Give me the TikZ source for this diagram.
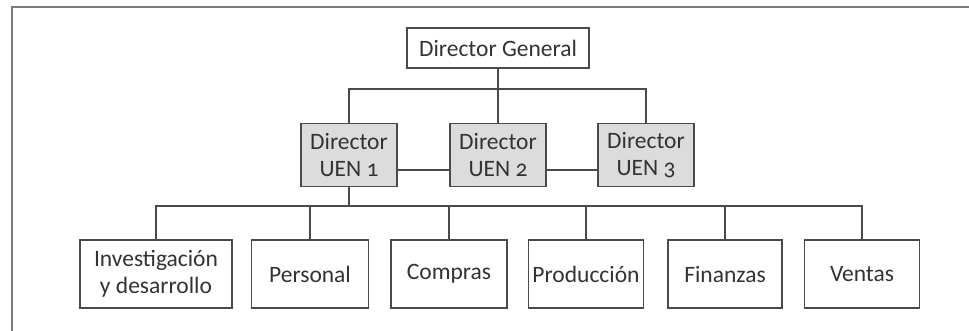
\documentclass[tikz,border=0pt]{standalone}
\usepackage{fontspec}
\setmainfont[Numbers=OldStyle]{Carlito}
\definecolor{ink}{HTML}{333333}
\definecolor{rule}{HTML}{4A4A4A}
\definecolor{uenfill}{HTML}{DCDCDC}
\definecolor{frame}{HTML}{7A7A7A}
\begin{document}
\begin{tikzpicture}[x=1pt,y=-1pt,
  every node/.style={font=\fontsize{23.5}{27}\selectfont, text=ink, align=center, inner sep=0pt},
  box/.style={draw=rule, line width=1.4pt, fill=white},
  uen/.style={box, fill=uenfill, minimum width=96pt, minimum height=63pt},
  dept/.style={box, minimum height=68pt},
  link/.style={draw=rule, line width=1.4pt}]
  \useasboundingbox (0,0) rectangle (969,330);
  % outer frame (top and left sides only)
  \draw[frame, line width=2.2pt] (12,331) -- (12,7) -- (970,7);

  % top level
  \node[box, minimum width=182pt, minimum height=40pt] (dg) at (498,48) {Director General};

  % business-unit directors
  \node[uen] (u1) at (349,155) {Director\\UEN 1};
  \node[uen] (u2) at (498,155) {Director\\UEN 2};
  \node[uen] (u3) at (646,155) {Director\\UEN 3};

  % functional departments
  \node[dept, minimum width=152pt] (b1) at (156,274) {Investigación\\y desarrollo};
  \node[dept, minimum width=117pt] (b2) at (310,274) {Personal};
  \node[dept, minimum width=116pt] (b3) at (449,274) {Compras};
  \node[dept, minimum width=115pt] (b4) at (586,274) {Producción};
  \node[dept, minimum width=114pt] (b5) at (725,274) {Finanzas};
  \node[dept, minimum width=115pt] (b6) at (862,274) {Ventas};

  % connectors from the director general
  \coordinate (tb) at (498,89);
  \draw[link] (dg.south) -- (tb);
  \draw[link] (u1.north) |- (tb) -| (u3.north);
  \draw[link] (tb) -- (u2.north);

  % links between the business units
  \draw[link] ([yshift=-15pt]u1.east) -- ([yshift=-15pt]u2.west);
  \draw[link] ([yshift=-15pt]u2.east) -- ([yshift=-15pt]u3.west);

  % connectors down to the departments
  \coordinate (bb) at (349,206);
  \draw[link] (u1.south) -- (bb);
  \draw[link] (b1.north) |- (bb) -| (b6.north);
  \foreach \b in {b2,b3,b4,b5}
    \draw[link] (\b.north) -- (\b.north |- bb);
\end{tikzpicture}
\end{document}
